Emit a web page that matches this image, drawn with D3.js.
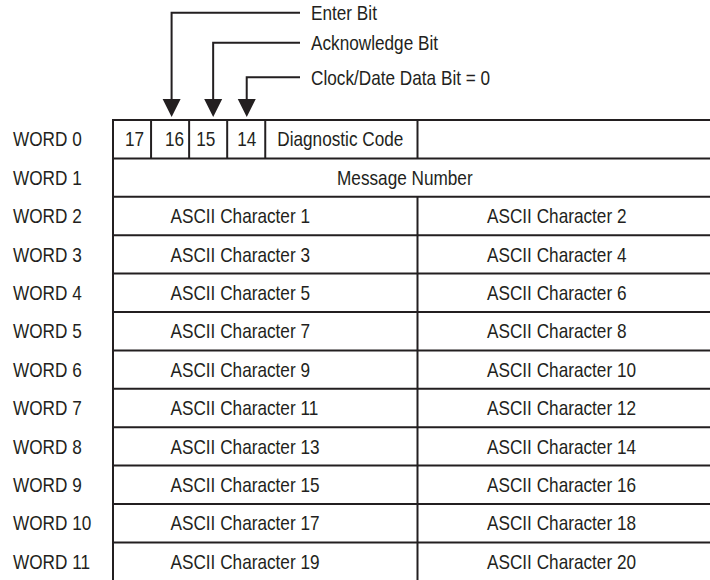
<!DOCTYPE html>
<html>
<head>
<meta charset="utf-8">
<script src="https://cdn.jsdelivr.net/npm/d3@7"></script>
<style>
  html, body { margin: 0; padding: 0; background: #fff; }
  svg { display: block; }
  text { font-family: "Liberation Sans", Arial, sans-serif; fill: #231f20; }
</style>
</head>
<body>
<svg id="chart" width="710" height="580"></svg>
<script>
// ---- data ----
const words = ["WORD 0","WORD 1","WORD 2","WORD 3","WORD 4","WORD 5","WORD 6","WORD 7","WORD 8","WORD 9","WORD 10","WORD 11"];
const word0Bits = ["17","16","15","14"];
const word0Field = "Diagnostic Code";
const word1Text = "Message Number";
const leftChars = ["ASCII Character 1","ASCII Character 3","ASCII Character 5","ASCII Character 7","ASCII Character 9","ASCII Character 11","ASCII Character 13","ASCII Character 15","ASCII Character 17","ASCII Character 19"];
const rightChars = ["ASCII Character 2","ASCII Character 4","ASCII Character 6","ASCII Character 8","ASCII Character 10","ASCII Character 12","ASCII Character 14","ASCII Character 16","ASCII Character 18","ASCII Character 20"];
const callouts = ["Enter Bit","Acknowledge Bit","Clock/Date Data Bit = 0"];
const calloutBits = ["16","15","14"];

// ---- layout ----
const ink = "#231f20";
const FS = 20, SX = 0.86;   // condensed look
const svg = d3.select("#chart");
const tableTop = 120, rowH = 38.4;
const y = d3.scaleLinear().domain([0, 12]).range([tableTop, tableTop + 12 * rowH]);
const x = d3.scaleLinear().domain([0, 16]).range([113, 722]);
const calloutY = d3.scaleOrdinal().domain(callouts).range([12.7, 42.7, 77.3]);
// text offsets inside cells (in px from the cell's left edge)
const bitTextPad = [12, 14, 7, 10];
const arrowNudge = [1.5, 5, 0.5];
const fieldPad = 12, msgPad = 224, leftPad = 57.5, rightPad = 69.5;

const g = svg.append("g");

function label(sel, fx, fy, anchor) {
  return sel.append("text")
    .attr("transform", (d, i) => `translate(${fx(d, i)},${fy(d, i)}) scale(${SX},1)`)
    .attr("dy", "0.36em")
    .attr("text-anchor", anchor)
    .attr("font-size", FS)
    .text(d => d);
}

// horizontal row lines
g.selectAll("line.row").data(words).enter().append("line")
  .attr("x1", x(0) - 1).attr("x2", 720)
  .attr("y1", (d, i) => y(i)).attr("y2", (d, i) => y(i))
  .attr("stroke", ink).attr("stroke-width", 2);

// left border
g.append("line").attr("x1", x(0)).attr("x2", x(0)).attr("y1", y(0)).attr("y2", 580)
  .attr("stroke", ink).attr("stroke-width", 2);

// word 0 dividers
const w0div = [1, 2, 3, 4, 8];
g.selectAll("line.w0").data(w0div).enter().append("line")
  .attr("x1", d => x(d)).attr("x2", d => x(d))
  .attr("y1", y(0)).attr("y2", y(1))
  .attr("stroke", ink).attr("stroke-width", 2);

// middle divider, words 2..11
g.selectAll("line.mid").data(leftChars).enter().append("line")
  .attr("x1", x(8)).attr("x2", x(8))
  .attr("y1", (d, i) => y(i + 2)).attr("y2", (d, i) => y(i + 3))
  .attr("stroke", ink).attr("stroke-width", 2);

// word labels
label(g.selectAll("g.word").data(words).enter(), () => 13, (d, i) => y(i + 0.5), "start");

// word 0 contents
label(g.selectAll("g.bit").data(word0Bits).enter(), (d, i) => x(i) + bitTextPad[i], () => y(0.5), "start");
label(g.selectAll("g.field").data([word0Field]).enter(), () => x(4) + fieldPad, () => y(0.5), "start");

// word 1
label(g.selectAll("g.msg").data([word1Text]).enter(), () => x(0) + msgPad, () => y(1.5), "start");

// ascii characters
label(g.selectAll("g.lc").data(leftChars).enter(), () => x(0) + leftPad, (d, i) => y(i + 2.5), "start");
label(g.selectAll("g.rc").data(rightChars).enter(), () => x(8) + rightPad, (d, i) => y(i + 2.5), "start");

// callouts
const lineEnd = 300, labelX = 311, tipY = 117, headH = 18, headW = 9;
callouts.forEach((lab, i) => {
  const bx = x(word0Bits.indexOf(calloutBits[i]) + 0.5) + arrowNudge[i];
  const ly = calloutY(lab);
  g.append("path")
    .attr("d", `M${lineEnd},${ly}H${bx}V${tipY - headH + 1}`)
    .attr("fill", "none").attr("stroke", ink).attr("stroke-width", 2);
  g.append("path")
    .attr("d", `M${bx - headW},${tipY - headH}L${bx + headW},${tipY - headH}L${bx},${tipY}Z`)
    .attr("fill", ink);
});
label(g.selectAll("g.call").data(callouts).enter(), () => labelX, d => calloutY(d), "start");
</script>
</body>
</html>
